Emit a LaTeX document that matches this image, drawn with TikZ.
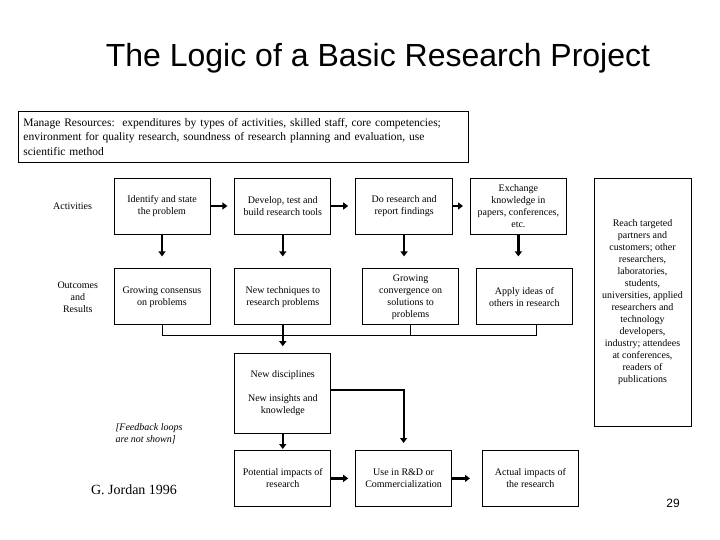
\documentclass[tikz,border=0pt]{standalone}
\usepackage{fontspec}
\setmainfont{Liberation Serif}
\newfontfamily\arialfont{Liberation Sans}
\usepackage{tikz}
\usetikzlibrary{arrows.meta, positioning}

\begin{document}
\begin{tikzpicture}[x=1pt, y=-1pt,
        node distance=34pt and 24pt,
        box/.style = {draw, line width=0.8pt, minimum height=56pt, minimum width=96pt, inner sep=2pt, align=center, font=\fontsize{10}{12}\selectfont},
        label text/.style = {align=center, font=\fontsize{10}{12}\selectfont},
        arrow/.style = {-{Triangle[length=5pt,width=7pt]}, line width=2.2pt, shorten >=7pt},
        thin line/.style = {line width=0.8pt}
    ]
    \useasboundingbox (0,0) rectangle (720,540);

    % Nodes
    \node (title) at (378,58) {\arialfont\fontsize{32}{36}\selectfont The Logic of a Basic Research Project};
    \node (manage) [draw, line width=0.8pt, anchor=north west, minimum height=51pt, text width=440pt, inner sep=5pt, align=left, font=\fontsize{11.5}{14.5}\selectfont] at (18,111) {Manage Resources:\ \ expenditures by types of activities, skilled staff, core competencies;\\environment for quality research, soundness of research planning and evaluation, use\\scientific method};

    \node (identify) [box] at (162,206) {Identify and state\\the problem};
    \node (develop) [box, right=of identify] {Develop, test and\\build research tools};
    \node (doresearch) [box, right=of develop, minimum width=97pt] {Do research and\\report findings};
    \node (exchange) [box, right=17pt of doresearch] {Exchange\\knowledge in\\papers, conferences,\\etc.};
    \node (consensus) [box, below=of identify] {Growing consensus\\on problems};
    \node (techniques) [box, below=of develop] {New techniques to\\research problems};
    \node (convergence) [box, below=of doresearch, xshift=6.5pt] {Growing\\convergence on\\solutions to\\problems};
    \node (applyideas) [box, below=of exchange, xshift=6pt] {Apply ideas of\\others in research};
    \node (reach) [box, minimum width=97pt, minimum height=248pt] at (642.5,302) {Reach targeted\\partners and\\customers; other\\researchers,\\laboratories,\\students,\\universities, applied\\researchers and\\technology\\developers,\\industry; attendees\\at conferences,\\readers of\\publications};
    \node (disciplines) [box, below=28pt of techniques, minimum height=80pt] {New disciplines\\[12pt]New insights and\\knowledge};
    \node (potential) [box, below=16pt of disciplines] {Potential impacts of\\research};
    \node (usein) [box, right=of potential] {Use in R\&D or\\Commercialization};
    \node (actual) [box, right=30pt of usein] {Actual impacts of\\the research};

    \node (activities) [label text, left=18pt of identify] {Activities};
    \node (outcomes) [label text, left=12pt of consensus] {Outcomes\\and\\Results};
    \node (feedback) [align=left, font=\fontsize{10}{12}\selectfont\itshape, anchor=west] at (112,434) {[Feedback loops\\are not shown]};
    \node (jordan) [font=\fontsize{14}{16}\selectfont] at (134,490) {G. Jordan 1996};
    \node (page) [font=\arialfont\fontsize{12}{14}\selectfont] at (673,503) {29};

    % Arrows
    \draw[arrow] (identify) -- (develop);
    \draw[arrow] (develop) -- (doresearch);
    \draw[arrow] (doresearch) -- (exchange);
    \draw[arrow, shorten >=12pt] (identify) -- (consensus);
    \draw[arrow, shorten >=12pt] (develop) -- (techniques);
    \draw[arrow, shorten >=12pt] (doresearch) -- (doresearch |- convergence.north);
    \draw[arrow, shorten >=12pt] (exchange) -- (exchange |- applyideas.north);

    \draw[thin line] (consensus.south) |- ([yshift=-10pt]techniques.south) -| ([xshift=12pt]applyideas.south);
    \draw[thin line] (convergence.south) -- ([yshift=-10pt]convergence.south);

    \draw[arrow] (techniques) -- (disciplines);
    \draw[arrow, shorten >=1pt] (disciplines) -- (potential);
    \draw[arrow] ([yshift=4pt]disciplines.east) -| (usein);
    \draw[arrow] (potential) -- (usein);
    \draw[arrow, shorten >=12pt] (usein) -- (actual);

\end{tikzpicture}
\end{document}
